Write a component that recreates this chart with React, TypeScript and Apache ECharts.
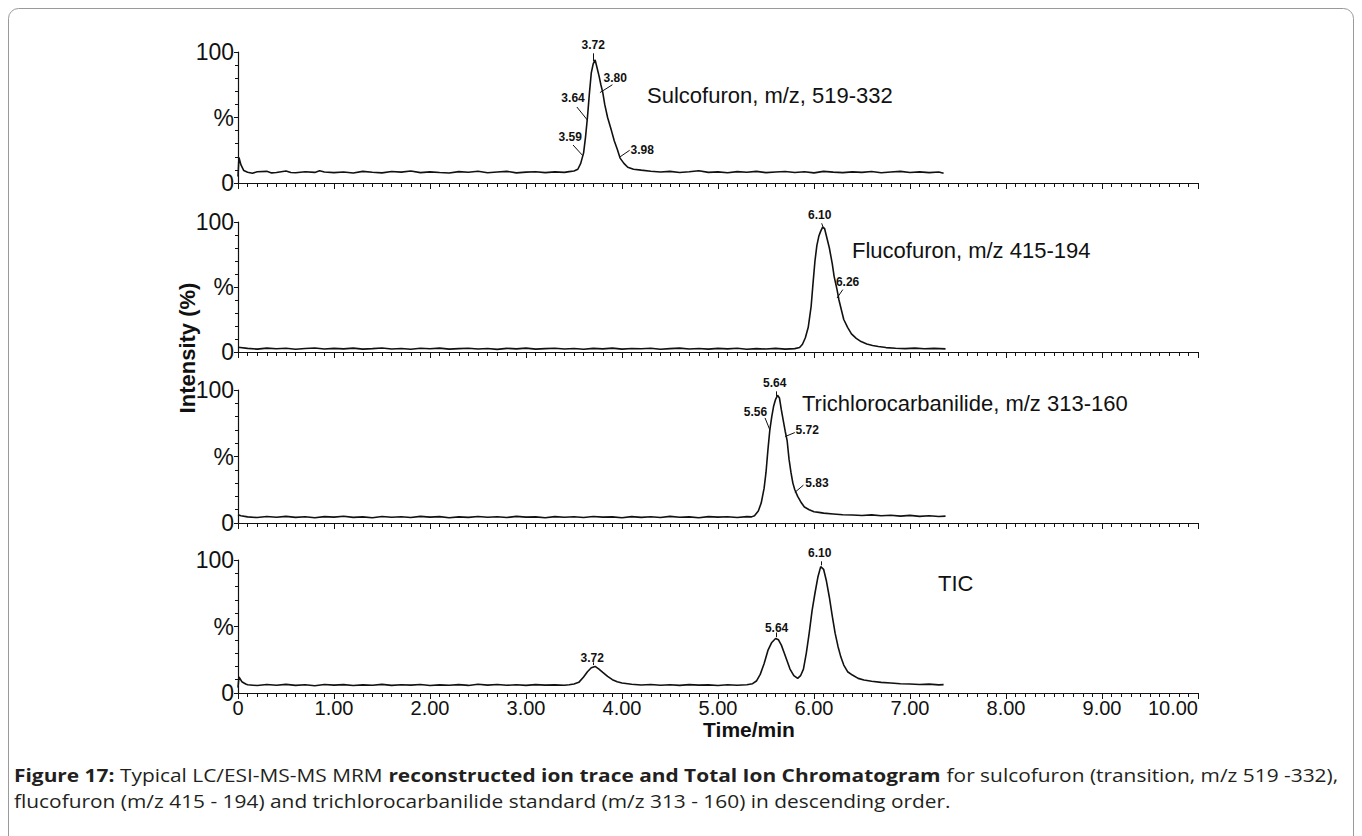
import React, { useEffect, useRef } from "react";
import * as echarts from "echarts";

// ---------- data ----------
const traceNames = [
  "Sulcofuron, m/z, 519-332",
  "Flucofuron, m/z 415-194",
  "Trichlorocarbanilide, m/z 313-160",
  "TIC",
];

const yTickLabels: Record<number, string> = { 0: "0", 50: "%", 100: "100" };
const xAxisTitle = "Time/min";
const yAxisTitle = "Intensity (%)";

const sulcofuron: [number, number][] = [
  [0.0, 5.0], [0.01, 19.5], [0.03, 14.0], [0.06, 9.5], [0.1, 8.2], [0.15, 7.4], [0.2, 8.6], [0.3, 8.9], [0.35, 7.7],
  [0.4, 8.0], [0.5, 9.2], [0.55, 8.0], [0.6, 7.8], [0.7, 8.6], [0.8, 8.1], [0.85, 9.3], [0.9, 8.4], [1.0, 7.9],
  [1.1, 8.4], [1.2, 7.6], [1.3, 8.9], [1.4, 8.2], [1.5, 7.7], [1.6, 8.8], [1.7, 8.3], [1.8, 9.1], [1.9, 7.9],
  [2.0, 8.5], [2.1, 8.0], [2.2, 7.6], [2.3, 8.7], [2.4, 8.2], [2.5, 9.0], [2.6, 7.8], [2.7, 8.4], [2.8, 8.9],
  [2.9, 7.7], [3.0, 8.3], [3.1, 8.6], [3.2, 7.9], [3.3, 8.5], [3.4, 8.1], [3.45, 8.7], [3.5, 9.2], [3.54, 10.5],
  [3.57, 15], [3.6, 23], [3.62, 35], [3.64, 50], [3.66, 68], [3.68, 84], [3.7, 91], [3.72, 94], [3.74, 88],
  [3.76, 82], [3.78, 75], [3.8, 69], [3.82, 60], [3.85, 50], [3.89, 40], [3.92, 32], [3.95, 26], [3.98, 19],
  [4.02, 15], [4.06, 12], [4.12, 10.5], [4.2, 9.8], [4.3, 9.0], [4.4, 8.4], [4.5, 8.9], [4.6, 8.0], [4.7, 8.6],
  [4.8, 9.3], [4.9, 8.1], [5.0, 8.5], [5.1, 7.8], [5.2, 8.7], [5.3, 8.2], [5.4, 8.9], [5.5, 7.9], [5.6, 8.4],
  [5.7, 8.8], [5.8, 8.0], [5.9, 8.6], [6.0, 7.7], [6.1, 8.9], [6.2, 8.3], [6.3, 7.9], [6.4, 8.5], [6.5, 8.1],
  [6.6, 8.8], [6.7, 7.8], [6.8, 8.4], [6.9, 8.9], [7.0, 8.0], [7.1, 8.5], [7.2, 7.9], [7.3, 8.4], [7.35, 7.5],
];

const flucofuron: [number, number][] = [
  [0.0, 3.6], [0.1, 2.8], [0.2, 2.2], [0.3, 3.0], [0.4, 2.5], [0.5, 2.9], [0.6, 2.1], [0.7, 2.7], [0.8, 3.1],
  [0.9, 2.3], [1.0, 2.8], [1.1, 2.4], [1.2, 3.0], [1.3, 2.2], [1.4, 2.6], [1.5, 3.1], [1.6, 2.3], [1.7, 2.7],
  [1.8, 2.1], [1.9, 2.9], [2.0, 2.5], [2.1, 3.0], [2.2, 2.2], [2.3, 2.6], [2.4, 2.9], [2.5, 2.3], [2.6, 2.7],
  [2.7, 2.0], [2.8, 2.8], [2.9, 2.4], [3.0, 3.0], [3.1, 2.2], [3.2, 2.6], [3.3, 2.9], [3.4, 2.3], [3.5, 2.7],
  [3.6, 2.1], [3.7, 2.8], [3.8, 2.4], [3.9, 3.0], [4.0, 2.2], [4.1, 2.7], [4.2, 2.5], [4.3, 2.9], [4.4, 2.1],
  [4.5, 2.6], [4.6, 3.0], [4.7, 2.3], [4.8, 2.7], [4.9, 2.2], [5.0, 2.8], [5.1, 2.4], [5.2, 2.9], [5.3, 2.1],
  [5.4, 2.6], [5.5, 2.3], [5.6, 2.8], [5.7, 2.2], [5.8, 2.6], [5.85, 3.5], [5.88, 6], [5.91, 11], [5.94, 19],
  [5.97, 35], [5.99, 53], [6.01, 70], [6.03, 82], [6.05, 89], [6.07, 93], [6.09, 96], [6.11, 95], [6.13, 89],
  [6.16, 80], [6.19, 68], [6.21, 58], [6.24, 48], [6.26, 40], [6.29, 31], [6.31, 25], [6.35, 19], [6.39, 14],
  [6.44, 10.5], [6.49, 8], [6.55, 6.2], [6.61, 5], [6.67, 4.2], [6.75, 3.4], [6.85, 2.9], [6.95, 2.6],
  [7.05, 3.0], [7.15, 2.5], [7.25, 2.8], [7.37, 2.4],
];

const trichlorocarbanilide: [number, number][] = [
  [0.0, 6.2], [0.03, 5.4], [0.1, 4.6], [0.2, 4.1], [0.3, 4.9], [0.4, 4.3], [0.5, 5.0], [0.6, 4.2], [0.7, 4.7],
  [0.8, 4.0], [0.9, 4.8], [1.0, 4.4], [1.1, 5.1], [1.2, 4.2], [1.3, 4.6], [1.4, 4.0], [1.5, 4.9], [1.6, 4.3],
  [1.7, 4.7], [1.8, 4.1], [1.9, 5.0], [2.0, 4.4], [2.1, 4.8], [2.2, 4.0], [2.3, 4.6], [2.4, 4.2], [2.5, 4.9],
  [2.6, 4.3], [2.7, 4.7], [2.8, 4.1], [2.9, 5.0], [3.0, 4.4], [3.1, 4.6], [3.2, 4.0], [3.3, 4.8], [3.4, 4.3],
  [3.5, 4.7], [3.6, 4.1], [3.7, 4.9], [3.8, 4.4], [3.9, 4.6], [4.0, 4.0], [4.1, 4.8], [4.2, 4.2], [4.3, 4.7],
  [4.4, 4.1], [4.5, 5.0], [4.6, 4.3], [4.7, 4.6], [4.8, 4.0], [4.9, 4.8], [5.0, 4.4], [5.1, 4.7], [5.2, 4.1],
  [5.3, 4.8], [5.35, 4.6], [5.38, 5.5], [5.42, 9], [5.45, 15], [5.48, 26], [5.5, 38], [5.52, 55], [5.54, 70],
  [5.56, 80], [5.58, 88], [5.6, 93], [5.62, 96], [5.64, 94], [5.66, 85], [5.68, 77], [5.7, 69], [5.72, 62],
  [5.74, 48], [5.76, 38], [5.78, 30], [5.8, 25], [5.83, 20], [5.87, 15], [5.9, 12], [5.95, 10], [6.0, 8.5],
  [6.05, 8], [6.1, 7.4], [6.2, 6.8], [6.3, 6.2], [6.4, 6.0], [6.5, 5.6], [6.6, 6.1], [6.7, 5.4], [6.8, 5.8],
  [6.9, 5.2], [7.0, 5.7], [7.1, 5.0], [7.2, 5.5], [7.3, 4.9], [7.37, 5.2],
];

const tic: [number, number][] = [
  [0.0, 4.0], [0.01, 12], [0.04, 8.5], [0.08, 6.8], [0.1, 6.2], [0.2, 5.6], [0.3, 6.4], [0.4, 5.8], [0.5, 6.5],
  [0.6, 5.7], [0.7, 6.2], [0.8, 5.5], [0.9, 6.4], [1.0, 5.9], [1.1, 6.3], [1.2, 5.6], [1.3, 6.1], [1.4, 5.8],
  [1.5, 6.5], [1.6, 5.7], [1.7, 6.2], [1.8, 5.9], [1.9, 6.4], [2.0, 5.6], [2.1, 6.1], [2.2, 5.8], [2.3, 6.3],
  [2.4, 5.7], [2.5, 6.6], [2.6, 5.9], [2.7, 6.4], [2.8, 5.8], [2.9, 6.2], [3.0, 5.7], [3.1, 6.3], [3.2, 5.9],
  [3.3, 6.1], [3.4, 5.8], [3.45, 6.2], [3.5, 6.8], [3.55, 8], [3.6, 12], [3.64, 16], [3.68, 19], [3.72, 20],
  [3.76, 18], [3.8, 15.5], [3.85, 12.5], [3.9, 10], [3.95, 8.5], [4.0, 7.5], [4.1, 6.6], [4.2, 6.0], [4.3, 6.4],
  [4.4, 5.8], [4.5, 6.2], [4.6, 5.7], [4.7, 6.3], [4.8, 5.9], [4.9, 6.1], [5.0, 5.6], [5.1, 6.2], [5.2, 5.8],
  [5.3, 6.2], [5.36, 7], [5.4, 9], [5.44, 14], [5.48, 22], [5.52, 32], [5.56, 38], [5.6, 41], [5.63, 40],
  [5.66, 36], [5.69, 30], [5.72, 24], [5.75, 18], [5.79, 13], [5.83, 11], [5.86, 13], [5.89, 18], [5.92, 30],
  [5.95, 45], [5.98, 62], [6.01, 75], [6.04, 87], [6.07, 95], [6.1, 93], [6.13, 84], [6.16, 72], [6.19, 58],
  [6.22, 45], [6.25, 35], [6.28, 27], [6.31, 21], [6.35, 16], [6.4, 13.5], [6.46, 11], [6.52, 9.8], [6.6, 8.8],
  [6.7, 8], [6.8, 7.5], [6.9, 7.0], [7.0, 6.8], [7.1, 6.4], [7.2, 6.7], [7.3, 6.1], [7.35, 6.3],
];

// peak annotation labels: [time, intensity, text, vertical pixel nudge]
type Ann = [number, number, string, number];
const sulcofuronPeaks: Ann[] = [
  [3.7, 100, "3.72", -7], [3.93, 80, "3.80", 0], [3.49, 65, "3.64", 0], [3.46, 35, "3.59", 0], [4.21, 25, "3.98", 0],
];
const flucofuronPeaks: Ann[] = [[6.06, 100, "6.10", -7], [6.35, 54, "6.26", 0]];
const trichloroPeaks: Ann[] = [
  [5.59, 100, "5.64", -7], [5.39, 83.5, "5.56", 0], [5.93, 70, "5.72", 0], [6.03, 30, "5.83", 0],
];
const ticPeaks: Ann[] = [[3.69, 26, "3.72", 0], [5.61, 49, "5.64", 0], [6.06, 100, "6.10", -7]];

// leader lines: [t1, v1, t2, v2]
const sulcofuronLeaders = [
  [3.7, 99, 3.7, 93], [3.77, 69, 3.9, 75], [3.53, 58, 3.64, 48], [3.49, 29, 3.59, 21], [4.08, 25, 3.98, 20],
];
const flucofuronLeaders = [[6.08, 99, 6.1, 95], [6.3, 48, 6.24, 41.5]];
const trichloroLeaders = [[5.61, 99, 5.61, 95.5], [5.49, 79, 5.54, 70], [5.8, 68, 5.7, 65], [5.89, 28.5, 5.8, 23]];
const ticLeaders = [[3.7, 23, 3.7, 21], [5.61, 45.5, 5.61, 42], [6.08, 99, 6.08, 96]];

const captionLine1 =
  "{b|Figure 17:} Typical LC/ESI-MS-MS MRM {b|reconstructed ion trace and Total Ion Chromatogram} for sulcofuron (transition, m/z 519 -332),";
const captionLine2 = "flucofuron (m/z 415 - 194) and trichlorocarbanilide standard (m/z 313 - 160) in descending order.";

// ---------- layout ----------
const traces = [sulcofuron, flucofuron, trichlorocarbanilide, tic];
const peaks = [sulcofuronPeaks, flucofuronPeaks, trichloroPeaks, ticPeaks];
const leaders = [sulcofuronLeaders, flucofuronLeaders, trichloroLeaders, ticLeaders];
const panelTops = [52, 222, 390, 560];
const panelHeights = [131, 130, 133, 133];
const nameLabelPos = [
  [647, 95],
  [852, 250],
  [802, 403],
  [938, 583],
];

const INK = "#111";
const SANS = '"Liberation Sans", Arial, sans-serif';
const CAPTION_FONT = '"Open Sans", sans-serif';
const CAPTION_SIZE = 18.5;
const CAPTION_STRETCH = 1.13;

export default function App() {
  const ref = useRef<HTMLDivElement>(null);

  useEffect(() => {
    if (!ref.current) return;
    const chart = echarts.init(ref.current, undefined, { renderer: "svg" });

    const grid = panelTops.map((top, i) => ({ left: 238, width: 960, top, height: panelHeights[i] }));

    const xAxis = panelTops.map((_, i) => ({
      type: "value",
      gridIndex: i,
      min: 0,
      max: 10,
      interval: 1,
      axisLine: { show: true, onZero: false, lineStyle: { color: INK, width: 1.2 } },
      axisTick: { show: true, length: 6, lineStyle: { color: INK, width: 1 } },
      minorTick: { show: true, splitNumber: 10, length: 4, lineStyle: { color: INK, width: 1 } },
      splitLine: { show: false },
      minorSplitLine: { show: false },
      axisLabel: {
        show: i === 3,
        formatter: (v: number) => (v === 0 ? "0" : v.toFixed(2)),
        fontSize: 20,
        color: INK,
        fontFamily: SANS,
        margin: 5,
        alignMaxLabel: "right",
      },
    }));

    const yAxis = panelTops.map((_, i) => ({
      type: "value",
      gridIndex: i,
      min: 0,
      max: 100,
      interval: 50,
      axisLine: { show: true, lineStyle: { color: INK, width: 1.2 } },
      axisTick: { show: true, length: 4, lineStyle: { color: INK, width: 1 } },
      minorTick: { show: true, splitNumber: 5, length: 3, lineStyle: { color: INK, width: 1 } },
      splitLine: { show: false },
      minorSplitLine: { show: false },
      axisLabel: {
        formatter: (v: number) => yTickLabels[v] ?? "",
        fontSize: 23,
        color: INK,
        fontFamily: SANS,
        margin: 4,
      },
    }));

    const series = traces.map((data, i) => ({
      type: "line",
      name: traceNames[i],
      xAxisIndex: i,
      yAxisIndex: i,
      data,
      symbol: "none",
      showSymbol: false,
      silent: true,
      lineStyle: { color: INK, width: 1.6 },
      markPoint: {
        silent: true,
        symbol: "circle",
        symbolSize: 1,
        itemStyle: { color: "rgba(0,0,0,0)" },
        label: {
          show: true,
          position: "inside",
          fontSize: 12,
          fontWeight: "bold",
          color: INK,
          fontFamily: SANS,
        },
        data: peaks[i].map((p) => ({
          coord: [p[0], p[1]],
          value: p[2],
          label: { formatter: p[2], offset: [0, p[3]] },
        })),
      },
      markLine: {
        silent: true,
        symbol: ["none", "none"],
        label: { show: false },
        lineStyle: { color: INK, width: 1, type: "solid" },
        data: leaders[i].map((l) => [{ coord: [l[0], l[1]] }, { coord: [l[2], l[3]] }]),
      },
    }));

    const graphic: any[] = [
      {
        type: "rect",
        shape: { x: 8.5, y: 8.5, width: 1345, height: 860, r: 10 },
        style: { fill: "none", stroke: "#9a9a9a", lineWidth: 1 },
        silent: true,
      },
      ...traceNames.map((name, i) => ({
        type: "text",
        x: nameLabelPos[i][0],
        y: nameLabelPos[i][1],
        style: {
          text: name,
          fill: INK,
          font: `22px ${SANS}`,
          align: "left",
          verticalAlign: "middle",
        },
        silent: true,
      })),
      {
        type: "text",
        x: 749,
        y: 729,
        style: { text: xAxisTitle, fill: INK, font: `bold 21px ${SANS}`, align: "center", verticalAlign: "middle" },
        silent: true,
      },
      {
        type: "text",
        x: 187,
        y: 348,
        rotation: Math.PI / 2,
        style: { text: yAxisTitle, fill: INK, font: `bold 22px ${SANS}`, align: "center", verticalAlign: "middle" },
        silent: true,
      },
      {
        type: "text",
        x: 14,
        y: 775,
        scaleX: CAPTION_STRETCH,
        style: {
          text: captionLine1,
          fill: "#231f20",
          font: `${CAPTION_SIZE}px ${CAPTION_FONT}`,
          verticalAlign: "middle",
          rich: {
            b: {
              fontWeight: "bold",
              fontSize: CAPTION_SIZE,
              fontFamily: CAPTION_FONT,
              fill: "#231f20",
            },
          },
        },
        silent: true,
      },
      {
        type: "text",
        x: 14,
        y: 801,
        scaleX: CAPTION_STRETCH,
        style: {
          text: captionLine2,
          fill: "#231f20",
          font: `${CAPTION_SIZE}px ${CAPTION_FONT}`,
          verticalAlign: "middle",
        },
        silent: true,
      },
    ];

    chart.setOption({
      animation: false,
      backgroundColor: "#fff",
      grid,
      xAxis,
      yAxis,
      series,
      graphic,
    } as any);

    return () => chart.dispose();
  }, []);

  return (
    <div
      ref={ref}
      style={{ position: "fixed", left: 0, top: 0, width: 1362, height: 836, background: "#fff" }}
    />
  );
}
